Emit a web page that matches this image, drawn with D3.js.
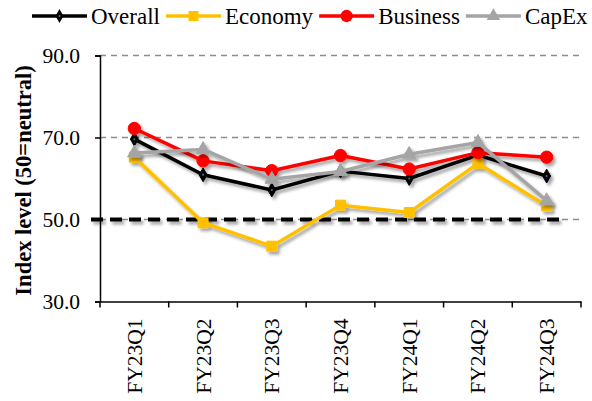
<!DOCTYPE html>
<html>
<head>
<meta charset="utf-8">
<script src="https://cdn.jsdelivr.net/npm/d3@7"></script>
<style>
html,body{margin:0;padding:0;background:#fff;}
svg{display:block;}
</style>
</head>
<body>
<svg id="chart" width="592" height="401"></svg>
<script>
const categories = ["FY23Q1","FY23Q2","FY23Q3","FY23Q4","FY24Q1","FY24Q2","FY24Q3"];
const overall  = [69.6, 60.9, 57.2, 61.8, 60.0, 65.7, 60.6];
const economy  = [65.2, 49.2, 43.5, 53.5, 51.7, 63.7, 53.3];
const business = [72.2, 64.3, 61.9, 65.6, 62.3, 66.3, 65.2];
const capex    = [66.2, 67.1, 59.8, 61.7, 65.9, 68.8, 54.6];
const yTicks   = [30, 50, 70, 90];
const neutral  = 50;
const seriesNames = ["Overall","Economy","Business","CapEx"];

(function(){
const series = [
  {name: seriesNames[0], values: overall,  color: "#000000", marker: "diamond"},
  {name: seriesNames[1], values: economy,  color: "#FFC000", marker: "square"},
  {name: seriesNames[2], values: business, color: "#FF0000", marker: "circle"},
  {name: seriesNames[3], values: capex,    color: "#A5A5A5", marker: "triangle"}
];

const svg = d3.select("#chart");
const font = "'Liberation Serif','Times New Roman',serif";
const pL = 100, pR = 581, pT = 55.5, pB = 301.5;

const x = d3.scaleBand().domain(categories).range([pL, pR]).padding(0);
const y = d3.scaleLinear().domain([30, 90]).range([pB, pT]);
const cx = c => x(c) + x.bandwidth() / 2;

const defs = svg.append("defs");
const f = defs.append("filter").attr("id","shadow").attr("filterUnits","userSpaceOnUse")
  .attr("x",0).attr("y",0).attr("width",592).attr("height",401);
f.append("feDropShadow").attr("dx",2.5).attr("dy",3).attr("stdDeviation",1.6)
  .attr("flood-color","#000").attr("flood-opacity",0.35);

// gridlines
svg.append("g").selectAll("line").data(yTicks.filter(t => t > 30)).join("line")
  .attr("x1", pL).attr("x2", pR)
  .attr("y1", d => y(d)).attr("y2", d => y(d))
  .attr("stroke", "#8c8c8c").attr("stroke-width", 1.3).attr("stroke-dasharray", "6,5");

// y axis
const yAxis = svg.append("g").attr("transform", `translate(${pL},0)`)
  .call(d3.axisLeft(y).tickValues(yTicks).tickFormat(d3.format(".1f")).tickSize(5).tickPadding(15));
yAxis.select(".domain").attr("stroke","#000").attr("stroke-width",1.5);
yAxis.selectAll(".tick line").attr("stroke","#000").attr("stroke-width",1.5);
yAxis.selectAll("text").attr("font-family", font).attr("font-size", 21.5).attr("fill","#000");

// x axis
const xAxis = svg.append("g").attr("transform", `translate(0,${pB})`)
  .call(d3.axisBottom(x).tickSize(0).tickPadding(0));
xAxis.select(".domain").attr("stroke","#000").attr("stroke-width",1.5);
xAxis.selectAll(".tick text")
  .attr("font-family", font).attr("font-size", 21.5).attr("fill","#000")
  .attr("transform", "translate(0,17) rotate(-90)")
  .attr("text-anchor","end").attr("dy","0.35em").attr("y",0).attr("x",0);
const bounds = categories.map(c => x(c)).concat([pR]);
svg.append("g").selectAll("line").data(bounds).join("line")
  .attr("x1", d => d).attr("x2", d => d)
  .attr("y1", pB).attr("y2", pB + 6)
  .attr("stroke","#000").attr("stroke-width",1.5);

// y axis title
svg.append("text")
  .attr("transform", `translate(23,${(pT+pB)/2 + 2}) rotate(-90)`)
  .attr("text-anchor","middle").attr("dy","0.35em")
  .attr("font-family", font).attr("font-weight","bold").attr("font-size", 22.5)
  .text("Index level (50=neutral)");

// neutral line
svg.append("line")
  .attr("x1", pL - 9).attr("x2", cx(categories[categories.length-1]) + 16)
  .attr("y1", y(neutral)).attr("y2", y(neutral))
  .attr("stroke","#000").attr("stroke-width",4).attr("stroke-dasharray","12,7")
  .attr("filter","url(#shadow)");

function markerPath(type, size) {
  const sym = {diamond: d3.symbolDiamond, square: d3.symbolSquare, circle: d3.symbolCircle, triangle: d3.symbolTriangle}[type];
  return d3.symbol().type(sym).size(size)();
}
const markerSize = {diamond: 55, square: 100, circle: 120, triangle: 80};

const line = d3.line().x((d,i) => cx(categories[i])).y(d => y(d));

series.forEach(s => {
  const g = svg.append("g").attr("filter","url(#shadow)");
  g.append("path").datum(s.values).attr("d", line)
    .attr("fill","none").attr("stroke", s.color).attr("stroke-width", 3.5).attr("stroke-linejoin","round");
  g.selectAll("path.m").data(s.values).join("path").attr("class","m")
    .attr("d", markerPath(s.marker, markerSize[s.marker]))
    .attr("transform", (d,i) => `translate(${cx(categories[i])},${y(d)})`)
    .attr("fill", s.color).attr("stroke", s.color).attr("stroke-width", 1);
  if (s.marker === "diamond") {
    g.selectAll("circle.c").data(s.values).join("circle").attr("class","c")
      .attr("cx", (d,i) => cx(categories[i])).attr("cy", d => y(d)).attr("r", 1)
      .attr("fill", "#4a6fa5");
  }
});

// legend
const legend = svg.append("g");
let lx = 32;
const ly = 16;
series.forEach(s => {
  legend.append("line").attr("x1", lx).attr("x2", lx + 55).attr("y1", ly).attr("y2", ly)
    .attr("stroke", s.color).attr("stroke-width", 3.5);
  legend.append("path").attr("d", markerPath(s.marker, markerSize[s.marker]))
    .attr("transform", `translate(${lx + 27.5},${ly})`).attr("fill", s.color);
  if (s.marker === "diamond") legend.append("circle").attr("cx", lx+27.5).attr("cy", ly).attr("r",1).attr("fill","#4a6fa5");
  const t = legend.append("text").attr("x", lx + 59).attr("y", ly).attr("dy","0.35em")
    .attr("font-family", font).attr("font-size", 23).text(s.name);
  lx = lx + 59 + t.node().getComputedTextLength() + 6;
});
})();
</script>
</body>
</html>
